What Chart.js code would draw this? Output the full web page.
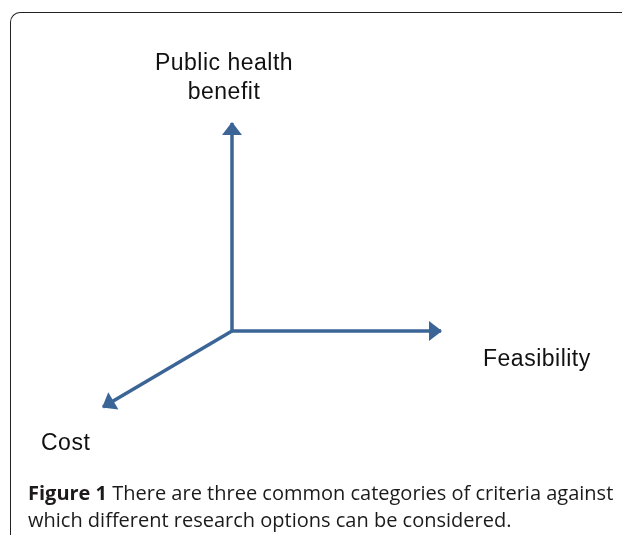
<!DOCTYPE html>
<html>
<head>
<meta charset="utf-8">
<script src="https://cdn.jsdelivr.net/npm/chart.js@4.4.1/dist/chart.umd.min.js"></script>
<style>
  html, body { margin: 0; padding: 0; background: #fff; }
  #wrap { position: relative; width: 622px; height: 535px; overflow: hidden; }
  #frame {
    position: absolute; left: 10px; top: 12px; width: 700px; height: 600px;
    border-left: 1.5px solid #222; border-top: 1.5px solid #222;
    border-top-left-radius: 10px;
  }
  canvas { position: absolute; left: 0; top: 0; }
  .lbl {
    position: absolute; font-family: "Liberation Sans", Arial, sans-serif;
    font-size: 23px; line-height: 29px; letter-spacing: 0.5px; color: #111; white-space: nowrap;
  }
  #caption {
    position: absolute; left: 28px; top: 479px; width: 600px;
    font-family: "Open Sans", sans-serif; font-size: 20px; line-height: 27px;
    color: #1c1a1a; white-space: nowrap;
  }
</style>
</head>
<body>
<div id="wrap">
  <div id="frame"></div>
  <canvas id="axesChart" width="622" height="535"></canvas>
  <div class="lbl" id="lblY" style="left:134px; top:48px; width:180px; text-align:center;">Public health<br>benefit</div>
  <div class="lbl" id="lblX" style="left:483px; top:344px;">Feasibility</div>
  <div class="lbl" id="lblZ" style="left:41px; top:428px;">Cost</div>
  <div id="caption"><b>Figure 1</b> There are three common categories of criteria against<br>which different research options can be considered.</div>
</div>
<script>
// criteria axes, arrow end points relative to the origin
const axisNames = ['Public health benefit', 'Feasibility', 'Cost'];
const axisEndX = [0, 209, -129];
const axisEndY = [208, 0, -76];

const arrowColor = '#3b6597';

// draw a filled arrowhead at the last point of every dataset
const arrowHeads = {
    id: 'arrowHeads',
    afterDatasetsDraw(chart) {
        const ctx = chart.ctx;
        chart.data.datasets.forEach((ds, i) => {
            const pts = chart.getDatasetMeta(i).data;
            const a = pts[0], b = pts[pts.length - 1];
            const ang = Math.atan2(b.y - a.y, b.x - a.x);
            ctx.save();
            ctx.translate(b.x, b.y);
            ctx.rotate(ang);
            ctx.beginPath();
            ctx.moveTo(1, 0);
            ctx.lineTo(-12, -10);
            ctx.lineTo(-12, 10);
            ctx.closePath();
            ctx.fillStyle = ds.borderColor;
            ctx.fill();
            ctx.restore();
        });
    }
};

let datasets = axisNames.map((name, i) => ({
    label: name,
    data: [{x: 0, y: 0}, {x: axisEndX[i], y: axisEndY[i]}],
    showLine: true,
    borderColor: arrowColor,
    borderWidth: 3.5,
    pointRadius: 0,
    fill: false
}));

new Chart("axesChart", {
    type: "scatter",
    data: { datasets: datasets },
    options: {
        responsive: false,
        animation: false,
        layout: { padding: 0 },
        plugins: {
            legend: { display: false },
            tooltip: { enabled: false }
        },
        scales: {
            x: { type: 'linear', min: -232, max: 390, display: false },
            y: { type: 'linear', min: -204, max: 331, display: false }
        }
    },
    plugins: [arrowHeads]
});
</script>
</body>
</html>
